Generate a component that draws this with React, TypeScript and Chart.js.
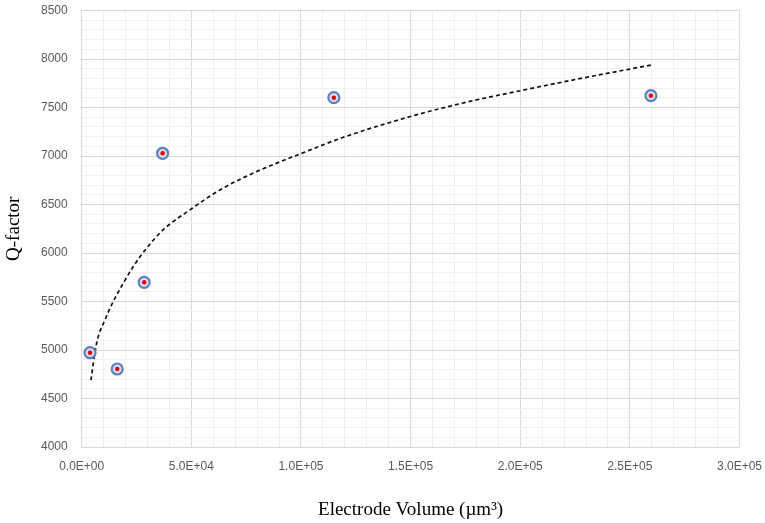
import React, { useEffect, useRef } from "react";
import { Chart, registerables } from "chart.js";

Chart.register(...registerables);

// measured samples (electrode volume in µm³, Q-factor)
const volumes = [3800, 16200, 28500, 36900, 115000, 259600];
const qFactors = [4972, 4804, 5698, 7028, 7601, 7622];

// dashed trend curve
const trendX = [4200, 6800, 10600, 14400, 19000, 23500, 29600, 37200, 49400, 63000, 79800, 99500, 119000, 149600, 175500, 200000, 228600, 259800];
const trendY = [4690, 5070, 5310, 5500, 5690, 5860, 6050, 6240, 6445, 6650, 6840, 7020, 7190, 7405, 7555, 7673, 7804, 7938];

const xMajor = 50000;
const yMajor = 500;

const formatSci = (v: number) => {
  const [m, e] = v.toExponential(1).split("e");
  const sign = e.startsWith("-") ? "-" : "+";
  return `${m}E${sign}${e.replace(/[+-]/, "").padStart(2, "0")}`;
};

const tickFont = { family: "'Liberation Sans', Arial, sans-serif", size: 12 };
const titleFont = { family: "'Liberation Serif', 'Times New Roman', serif", size: 19 };

const QFactorChart = () => {
  const canvasRef = useRef<HTMLCanvasElement>(null);
  const chartRef = useRef<Chart | null>(null);

  useEffect(() => {
    if (!canvasRef.current) return;
    chartRef.current?.destroy();

    const points = volumes.map((x, i) => ({ x, y: qFactors[i] }));
    const trend = trendX.map((x, i) => ({ x, y: trendY[i] }));

    chartRef.current = new Chart(canvasRef.current, {
      type: "scatter",
      data: {
        datasets: [
          {
            data: points,
            pointRadius: 2.2,
            pointHoverRadius: 2.2,
            pointBackgroundColor: "#e00000",
            pointBorderWidth: 0,
            order: 1,
          },
          {
            data: points,
            pointRadius: 5.5,
            pointHoverRadius: 5.5,
            pointBackgroundColor: "#d6deef",
            pointBorderColor: "#5f7fbf",
            pointBorderWidth: 2.2,
            order: 2,
          },
          {
            data: trend,
            showLine: true,
            pointRadius: 0,
            borderColor: "#111111",
            borderWidth: 1.7,
            borderDash: [4, 3],
            cubicInterpolationMode: "monotone",
            order: 3,
          },
        ],
      },
      options: {
        responsive: true,
        maintainAspectRatio: false,
        animation: false,
        layout: { padding: { top: 10.5, right: 25.5, left: 0, bottom: 0 } },
        plugins: {
          legend: { display: false },
          tooltip: { enabled: false },
        },
        scales: {
          x: {
            type: "linear",
            min: 0,
            max: 300000,
            afterFit: (scale) => {
              scale.height = 76;
              scale.paddingLeft = 0;
              scale.paddingRight = 0;
            },
            border: { color: "#d9d9d9" },
            grid: {
              drawTicks: false,
              color: (ctx) => (ctx.tick && ctx.tick.value % xMajor === 0 ? "#d9d9d9" : "#f0f0f0"),
            },
            ticks: {
              stepSize: 10000,
              autoSkip: false,
              maxRotation: 0,
              padding: 12,
              color: "#595959",
              font: tickFont,
              callback: (v) => (Number(v) % xMajor === 0 ? formatSci(Number(v)) : ""),
            },
            title: {
              display: true,
              text: "Electrode Volume (µm³)",
              color: "#000",
              font: titleFont,
              padding: { top: 0, bottom: 1.6 },
            },
          },
          y: {
            type: "linear",
            min: 4000,
            max: 8500,
            afterFit: (scale) => {
              scale.width = 81.7;
              scale.paddingTop = 0;
              scale.paddingBottom = 0;
            },
            border: { color: "#d9d9d9" },
            grid: {
              drawTicks: false,
              color: (ctx) => (ctx.tick && ctx.tick.value % yMajor === 0 ? "#d9d9d9" : "#f0f0f0"),
            },
            ticks: {
              stepSize: 100,
              maxTicksLimit: 1000,
              autoSkip: false,
              padding: 14,
              color: "#595959",
              font: tickFont,
              callback: (v) => (Number(v) % yMajor === 0 ? String(v) : ""),
            },
            title: {
              display: true,
              text: "Q-factor",
              color: "#000",
              font: titleFont,
              padding: { top: 2.6, bottom: 0 },
            },
          },
        },
      },
    });

    return () => chartRef.current?.destroy();
  }, []);

  return (
    <div style={{ position: "fixed", left: 0, top: 0, width: 765, height: 523, background: "#fff" }}>
      <canvas ref={canvasRef} />
    </div>
  );
};

export default function App() {
  return <QFactorChart />;
}
